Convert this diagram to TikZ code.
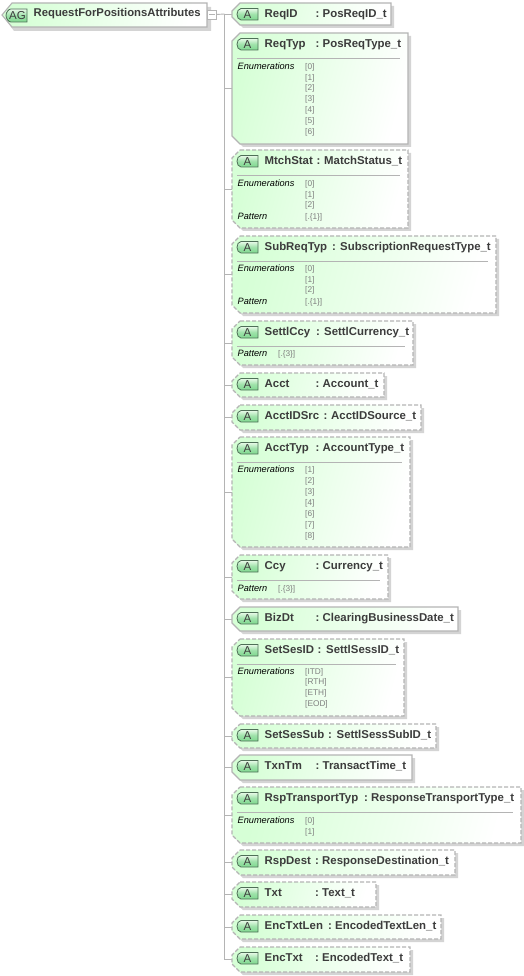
\documentclass[tikz,border=0pt]{standalone}
\usepackage{fontspec}
\setmainfont{Liberation Sans}
\usetikzlibrary{calc}
\definecolor{boxgreen}{HTML}{D6FFD6}
\definecolor{edgegrey}{HTML}{B4B4B4}
\definecolor{shadowgrey}{HTML}{D4D4D4}
\definecolor{labeltext}{HTML}{3C3C3C}
\definecolor{valtext}{HTML}{808080}
\definecolor{iconlight}{HTML}{E8FAE8}
\definecolor{icongreen}{HTML}{7FD88F}
\definecolor{iconedge}{HTML}{4F6F58}
\newcount\rowno
\tikzset{
  linkline/.style={draw=edgegrey,line width=0.9pt},
  solidedge/.style={draw=edgegrey,line width=1.1pt},
  dashededge/.style={draw=edgegrey,line width=1.1pt,dash pattern=on 4pt off 2pt},
  boxfill/.style={left color=boxgreen,right color=white,shading angle=75},
  anchorbox/.style={inner sep=0pt,outer sep=0pt,anchor=north west},
  nametext/.style={inner sep=0pt,anchor=base west,text=labeltext,font=\fontsize{11.4}{12}\selectfont\bfseries},
  roottext/.style={nametext,font=\fontsize{11.3}{12}\selectfont\bfseries},
  rowlabel/.style={inner sep=0pt,anchor=base west,text=black,font=\fontsize{9.2}{10}\selectfont\itshape},
  rowvalue/.style={inner sep=0pt,anchor=base west,text=valtext,font=\fontsize{8.3}{10}\selectfont},
  icontext/.style={inner sep=0pt,text=labeltext,font=\fontsize{11.5}{12}\selectfont},
  iconfill/.style={top color=iconlight,bottom color=icongreen,middle color=icongreen!70!iconlight},
  iconline/.style={draw=iconedge,line width=0.8pt}
}
% id, top, bottom, right, edge style, name, colon x, type x, type
\newcommand{\attrbox}[9]{%
  \pgfmathsetmacro{\bw}{#4-232}\pgfmathsetmacro{\bh}{#3-#2}\pgfmathsetmacro{\by}{#2+14.6}
  \pgfmathsetmacro{\ch}{min(8,\bh/2-1)}
  \node[anchorbox,minimum width=\bw pt,minimum height=\bh pt] (#1) at (232,#2) {};
  \fill[shadowgrey] (232+3+\ch,#2+3) -- (#4+3,#2+3) -- (#4+3,#3+3) -- (232+3+\ch,#3+3) -- (232+3,#3+3-\ch) -- (232+3,#2+3+\ch) -- cycle;
  \path[boxfill] (232+\ch,#2) -- (#4,#2) -- (#4,#3) -- (232+\ch,#3) -- (232,#3-\ch) -- (232,#2+\ch) -- cycle;
  \draw[#5] (232+\ch,#2) -- (#4,#2) -- (#4,#3) -- (232+\ch,#3) -- (232,#3-\ch) -- (232,#2+\ch) -- cycle;
  \draw[linkline] (trunk |- #1.west) -- (#1.west);
  \pgfmathsetmacro{\iy}{#2+5.5}
  \pgfmathsetmacro{\iyb}{#2+17}
  \path[iconfill] (258,\iy) -- (241,\iy) .. controls (238.5,\iy) and (237,\iy+3) .. (237,\iy+5.75) .. controls (237,\iyb-3) and (238.5,\iyb) .. (241,\iyb) -- (258,\iyb) -- cycle;
  \draw[iconline] (258,\iy) -- (241,\iy) .. controls (238.5,\iy) and (237,\iy+3) .. (237,\iy+5.75) .. controls (237,\iyb-3) and (238.5,\iyb) .. (241,\iyb) -- (258,\iyb) -- cycle;
  \node[icontext] (#1-a) at (247.5,\iy+5.75) {A};
  \node[nametext] (#1-n) at (264.5,\by) {#6};
  \node[nametext] (#1-c) at (#7,\by) {:};
  \node[nametext] (#1-t) at (#8,\by) {#9};
}
\newcommand{\sepline}[1]{\draw[draw=edgegrey,line width=0.8pt] ($(#1.north west)+(5,25.7)$) -- ($(#1.north east)+(-8,25.7)$);}
\newcommand{\rowlab}[2]{\global\advance\rowno by 1 \node[rowlabel] (rl\the\rowno) at (237.5,#2+3.4) {#1};}
\newcommand{\rowval}[3]{\global\advance\rowno by 1 \node[rowvalue] (rv\the\rowno) at (#1,#2+3.2) {#3};}
\begin{document}
\begin{tikzpicture}[x=1pt,y=-1pt]
\useasboundingbox (0,0) rectangle (524,976);
\fill[white] (0,0) rectangle (524,976);
\coordinate (trunk) at (224.5,14);
% root
\node[anchorbox,minimum width=205pt,minimum height=24pt] (root) at (2,3) {};
\fill[shadowgrey] (14,7) -- (211,7) -- (211,31) -- (14,31) -- (5,19) -- cycle;
\path[left color=boxgreen,right color=white,shading angle=75] (12,3) -- (207,3) -- (207,27) -- (12,27) -- (2,15) -- cycle;
\draw[solidedge] (12,3) -- (207,3) -- (207,27) -- (12,27) -- (2,15) -- cycle;
\path[iconfill] (27,9) -- (11,9) .. controls (8.5,9) and (6,12.5) .. (6,15.5) .. controls (6,18.5) and (8.5,22) .. (11,22) -- (27,22) -- cycle;
\draw[iconline] (27,9) -- (11,9) .. controls (8.5,9) and (6,12.5) .. (6,15.5) .. controls (6,18.5) and (8.5,22) .. (11,22) -- (27,22) -- cycle;
\node[icontext] (root-a) at (17.5,15.7) {AG};
\node[roottext] (root-n) at (33.5,17) {RequestForPositionsAttributes};
\node[draw=edgegrey,fill=white,line width=0.8pt,minimum width=9pt,minimum height=9pt,inner sep=0pt,outer sep=0pt] (toggle) at (212,14.5) {};
\draw[draw=edgegrey,line width=0.8pt] ($(toggle.center)+(-3,0)$) -- ($(toggle.center)+(3,0)$);
\draw[linkline] (toggle.east) -- (trunk);
% attributes
\attrbox{a1}{3}{25}{391}{solidedge}{ReqID}{315.5}{322.5}{PosReqID\_t}
\attrbox{a2}{33}{144}{408}{solidedge}{ReqTyp}{315.5}{322.5}{PosReqType\_t}
\sepline{a2}
\rowlab{Enumerations}{66}
\rowval{305}{66}{[0]}\rowval{305}{77}{[1]}\rowval{305}{87.5}{[2]}\rowval{305}{98.5}{[3]}\rowval{305}{109}{[4]}\rowval{305}{120}{[5]}\rowval{305}{131}{[6]}
\attrbox{a3}{150}{228}{408}{dashededge}{MtchStat}{316.5}{324}{MatchStatus\_t}
\sepline{a3}
\rowlab{Enumerations}{183.5}\rowlab{Pattern}{216}
\rowval{305}{183.5}{[0]}\rowval{305}{194}{[1]}\rowval{305}{204.5}{[2]}\rowval{305}{216}{[.\{1\}]}
\attrbox{a4}{236}{313}{496}{dashededge}{SubReqTyp}{332}{340}{SubscriptionRequestType\_t}
\sepline{a4}
\rowlab{Enumerations}{268.5}\rowlab{Pattern}{301}
\rowval{305}{268.5}{[0]}\rowval{305}{279}{[1]}\rowval{305}{289.5}{[2]}\rowval{305}{301}{[.\{1\}]}
\attrbox{a5}{321}{365}{413}{dashededge}{SettlCcy}{316}{324}{SettlCurrency\_t}
\sepline{a5}
\rowlab{Pattern}{353.5}\rowval{278}{353.5}{[.\{3\}]}
\attrbox{a6}{373}{397}{384}{dashededge}{Acct}{315.5}{322.5}{Account\_t}
\attrbox{a7}{405}{430}{421}{dashededge}{AcctIDSrc}{323.5}{331}{AcctIDSource\_t}
\attrbox{a8}{437}{547}{410}{dashededge}{AcctTyp}{315.5}{322.5}{AccountType\_t}
\sepline{a8}
\rowlab{Enumerations}{469}
\rowval{305}{469}{[1]}\rowval{305}{480}{[2]}\rowval{305}{491}{[3]}\rowval{305}{502}{[4]}\rowval{305}{513}{[6]}\rowval{305}{524}{[7]}\rowval{305}{535}{[8]}
\attrbox{a9}{555}{599}{388}{dashededge}{Ccy}{315.5}{322.5}{Currency\_t}
\sepline{a9}
\rowlab{Pattern}{588}\rowval{278}{588}{[.\{3\}]}
\attrbox{a10}{607}{631}{458}{solidedge}{BizDt}{315.5}{322.5}{ClearingBusinessDate\_t}
\attrbox{a11}{639}{716}{404}{dashededge}{SetSesID}{317.5}{326}{SettlSessID\_t}
\sepline{a11}
\rowlab{Enumerations}{671.5}
\rowval{305}{671.5}{[ITD]}\rowval{305}{681.5}{[RTH]}\rowval{305}{692}{[ETH]}\rowval{305}{703}{[EOD]}
\attrbox{a12}{724}{748}{436}{dashededge}{SetSesSub}{328}{336.5}{SettlSessSubID\_t}
\attrbox{a13}{755}{780}{412}{solidedge}{TxnTm}{315.5}{322.5}{TransactTime\_t}
\attrbox{a14}{787}{843}{521}{dashededge}{RspTransportTyp}{364}{371}{ResponseTransportType\_t}
\sepline{a14}
\rowlab{Enumerations}{820}
\rowval{305}{820}{[0]}\rowval{305}{831}{[1]}
\attrbox{a15}{850}{875}{455}{dashededge}{RspDest}{315}{322}{ResponseDestination\_t}
\attrbox{a16}{882}{907}{376}{dashededge}{Txt}{315}{322}{Text\_t}
\attrbox{a17}{915}{939}{441}{dashededge}{EncTxtLen}{328}{335}{EncodedTextLen\_t}
\attrbox{a18}{947}{972}{410}{dashededge}{EncTxt}{315}{322}{EncodedText\_t}
\draw[linkline] (trunk) -- (trunk |- a18.west);
\end{tikzpicture}
\end{document}
